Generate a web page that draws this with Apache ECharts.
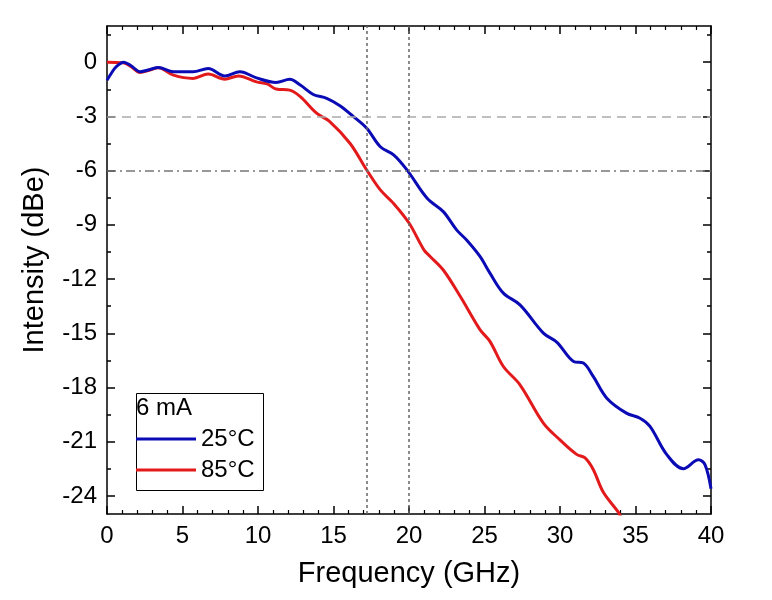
<!DOCTYPE html>
<html>
<head>
<meta charset="utf-8">
<script src="https://cdn.jsdelivr.net/npm/echarts@6/dist/echarts.min.js"></script>
<style>html,body{margin:0;padding:0;background:#fff}#c{width:772px;height:600px}</style>
</head>
<body>
<div id="c"></div>
<script>
var freq25 = [0.0,0.3,0.6,1.1,1.6,2.2,2.8,3.4,4.4,5.7,6.7,7.8,8.8,9.9,11.2,12.1,12.8,13.66,14.55,15.4,16.3,17.2,18.1,19.0,19.9,21.2,22.27,23.15,23.8,24.7,25.36,26.25,27.35,28.9,29.8,30.9,31.55,32.2,33.1,34.4,35.3,35.96,37.06,38.17,39.17,39.6,40.0];
var val25  = [-1.0,-0.6,-0.26,0.0,-0.2,-0.53,-0.42,-0.3,-0.53,-0.53,-0.35,-0.76,-0.53,-0.87,-1.12,-0.95,-1.27,-1.79,-2.0,-2.4,-3.0,-3.66,-4.68,-5.14,-6.0,-7.53,-8.27,-9.28,-9.83,-10.75,-11.67,-12.78,-13.43,-14.99,-15.5,-16.56,-16.65,-17.39,-18.59,-19.42,-19.7,-20.15,-21.7,-22.5,-22.0,-22.27,-23.6];
var freq85 = [0.0,1.08,1.6,2.19,2.8,3.4,4.4,5.7,6.7,7.8,8.7,9.9,10.6,11.2,12.1,12.8,13.9,14.7,16.1,17.2,18.1,18.96,20.0,21.0,21.4,22.27,23.4,24.7,25.36,26.25,27.35,28.9,30.0,31.1,31.66,32.2,32.87,33.86,34.1];
var val85  = [0.0,-0.04,-0.25,-0.57,-0.45,-0.31,-0.72,-0.9,-0.66,-0.94,-0.76,-1.09,-1.2,-1.49,-1.55,-1.91,-2.84,-3.25,-4.5,-5.97,-7.07,-7.8,-8.9,-10.4,-10.75,-11.5,-12.97,-14.8,-15.45,-16.84,-17.85,-19.97,-20.9,-21.7,-21.9,-22.54,-23.8,-24.9,-25.3];
var seriesNames = ['25°C','85°C'];
var legendTitle = '6 mA';
var xTitle = 'Frequency (GHz)';
var yTitle = 'Intensity (dBe)';
var yMajor = [-24,-21,-18,-15,-12,-9,-6,-3,0];
var yMinor = [-22.5,-19.5,-16.5,-13.5,-10.5,-7.5,-4.5,-1.5,1.5];
var vLines = [17.2, 20];
var hDashed = -3, hDashDot = -6;

function pairs(xs, ys){ return xs.map(function(x,i){ return [x, ys[i]]; }); }

var FONT = 'Liberation Sans';
var chart = echarts.init(document.getElementById('c'), null, {renderer:'canvas'});
var Y0 = -25, Y1 = 2;
function yAx(pos, vals, len, labels, line){
  return {
    type:'value', min:Y0, max:Y1, position:pos,
    axisLine:{show:line, onZero:false, lineStyle:{color:'#000', width:1.5}},
    axisTick:{show:true, inside:true, length:len, customValues:vals, lineStyle:{color:'#000', width:1.5}},
    axisLabel:{show:labels, customValues:vals, color:'#000', fontSize:24, fontFamily:FONT, margin:10},
    splitLine:{show:false}, minorTick:{show:false}
  };
}
var option = {
  animation:false,
  backgroundColor:'#fff',
  grid:{left:107, right:61, top:26, bottom:86, containLabel:false},
  xAxis:[{
    type:'value', min:0, max:40, interval:5, position:'bottom',
    name:xTitle, nameLocation:'middle', nameGap:45,
    nameTextStyle:{color:'#000', fontSize:29, fontFamily:FONT},
    axisLine:{onZero:false, lineStyle:{color:'#000', width:1.5}},
    axisTick:{inside:true, length:8, lineStyle:{color:'#000', width:1.5}},
    minorTick:{show:true, splitNumber:5, length:4, lineStyle:{color:'#000', width:1.2}},
    axisLabel:{color:'#000', fontSize:24, fontFamily:FONT, margin:10},
    splitLine:{show:false}
  },{
    type:'value', min:0, max:40, interval:5, position:'top',
    axisLine:{onZero:false, lineStyle:{color:'#000', width:1.5}},
    axisTick:{inside:true, length:8, lineStyle:{color:'#000', width:1.5}},
    minorTick:{show:true, splitNumber:5, length:4, lineStyle:{color:'#000', width:1.2}},
    axisLabel:{show:false}, splitLine:{show:false}
  }],
  yAxis:[
    yAx('left', yMajor, 8, true, true),
    yAx('left', yMinor, 4, false, false),
    yAx('right', yMajor, 8, false, true),
    yAx('right', yMinor, 4, false, false)
  ],
  legend:{
    left:136, top:426, orient:'vertical', itemGap:5, z:10, padding:0,
    icon:'rect', itemWidth:60, itemHeight:3,
    textStyle:{color:'#000', fontSize:24, fontFamily:FONT, lineHeight:26},
    data:seriesNames
  },
  graphic:[
    {type:'rect', left:134, top:391, z:1, shape:{width:127, height:97}, style:{fill:'none', stroke:'#000', lineWidth:1}},
    {type:'text', left:136, top:396, z:1, style:{text:legendTitle, fill:'#000', font:'24px "Liberation Sans"'}},
    {type:'text', x:35, y:260, rotation:Math.PI/2, z:1,
     style:{text:yTitle, fill:'#000', font:'29px "Liberation Sans"', align:'center', verticalAlign:'middle'}}
  ],
  series:[
    {
      name:seriesNames[0], type:'line', data:pairs(freq25, val25), smooth:0.35, showSymbol:false,
      lineStyle:{color:'#0b0bb5', width:3}, itemStyle:{color:'#0b0bb5'}, z:4,
      markLine:{
        silent:true, symbol:'none', label:{show:false},
        data:[
          {xAxis:vLines[0], lineStyle:{color:'#666', type:[3,3], width:1.5}},
          {xAxis:vLines[1], lineStyle:{color:'#666', type:[3,3], width:1.5}},
          {yAxis:hDashed, lineStyle:{color:'#aaa', type:[9,6], width:1.5}},
          {yAxis:hDashDot, lineStyle:{color:'#777', type:[9,4,2,4], width:1.5}}
        ]
      }
    },
    {
      name:seriesNames[1], type:'line', data:pairs(freq85, val85), smooth:0.35, showSymbol:false,
      lineStyle:{color:'#e31a1c', width:3}, itemStyle:{color:'#e31a1c'}, z:3
    }
  ]
};
chart.setOption(option);
</script>
</body>
</html>
